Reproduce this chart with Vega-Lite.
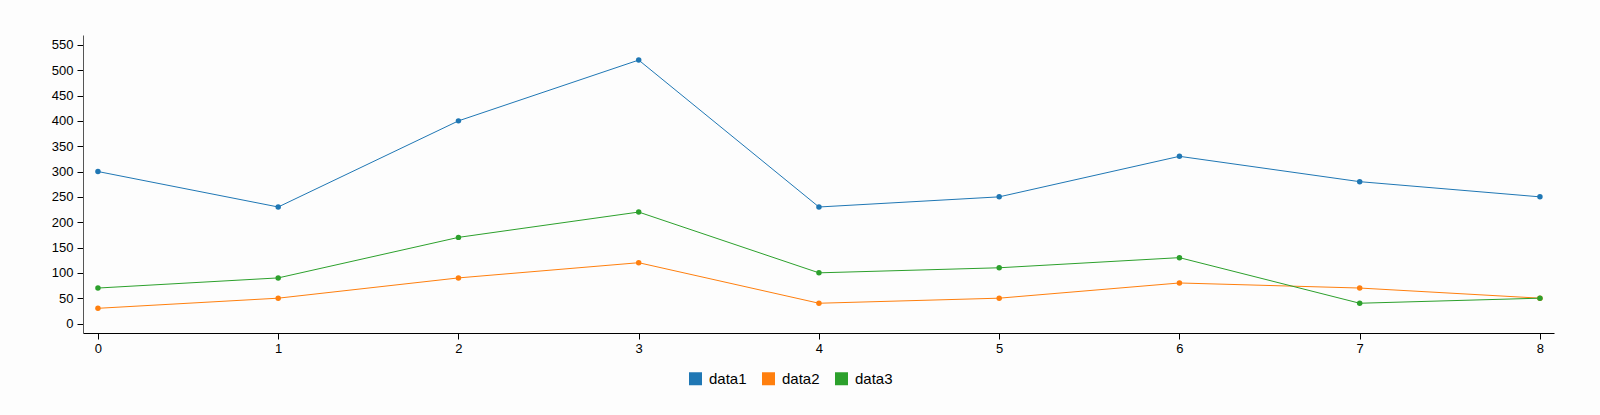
{
  "$schema": "https://vega.github.io/schema/vega-lite/v6.json",
  "autosize": "none",
  "width": 1471,
  "height": 298,
  "padding": {"left": 83, "top": 35, "right": 46, "bottom": 82},
  "background": "#fdfdfd",
  "data": {"values": [
    {"x": 0, "value": 300, "series": "data1"},
    {"x": 1, "value": 230, "series": "data1"},
    {"x": 2, "value": 400, "series": "data1"},
    {"x": 3, "value": 520, "series": "data1"},
    {"x": 4, "value": 230, "series": "data1"},
    {"x": 5, "value": 250, "series": "data1"},
    {"x": 6, "value": 330, "series": "data1"},
    {"x": 7, "value": 280, "series": "data1"},
    {"x": 8, "value": 250, "series": "data1"},
    {"x": 0, "value": 30, "series": "data2"},
    {"x": 1, "value": 50, "series": "data2"},
    {"x": 2, "value": 90, "series": "data2"},
    {"x": 3, "value": 120, "series": "data2"},
    {"x": 4, "value": 40, "series": "data2"},
    {"x": 5, "value": 50, "series": "data2"},
    {"x": 6, "value": 80, "series": "data2"},
    {"x": 7, "value": 70, "series": "data2"},
    {"x": 8, "value": 50, "series": "data2"},
    {"x": 0, "value": 70, "series": "data3"},
    {"x": 1, "value": 90, "series": "data3"},
    {"x": 2, "value": 170, "series": "data3"},
    {"x": 3, "value": 220, "series": "data3"},
    {"x": 4, "value": 100, "series": "data3"},
    {"x": 5, "value": 110, "series": "data3"},
    {"x": 6, "value": 130, "series": "data3"},
    {"x": 7, "value": 40, "series": "data3"},
    {"x": 8, "value": 50, "series": "data3"}
  ]},
  "encoding": {
    "x": {
      "field": "x", "type": "quantitative",
      "scale": {"domain": [-0.083, 8.078], "nice": false, "zero": false},
      "axis": {"title": null, "grid": false, "values": [0,1,2,3,4,5,6,7,8], "format": "d",
               "domainColor": "#000", "tickColor": "#000", "tickSize": 6, "labelPadding": 3,
               "labelFont": "Liberation Sans", "labelFontSize": 13, "labelColor": "#000"}
    },
    "y": {
      "field": "value", "type": "quantitative",
      "scale": {"domain": [-18.75, 569.5], "nice": false, "zero": false},
      "axis": {"title": null, "grid": false, "values": [0,50,100,150,200,250,300,350,400,450,500,550],
               "domainColor": "#555", "tickColor": "#000", "tickSize": 6, "labelPadding": 4,
               "labelFont": "Liberation Sans", "labelFontSize": 13, "labelColor": "#000"}
    },
    "color": {
      "field": "series", "type": "nominal",
      "scale": {"domain": ["data1", "data2", "data3"], "range": ["#1f77b4", "#ff7f0e", "#2ca02c"]},
      "legend": {"title": null, "orient": "none", "direction": "horizontal", "legendX": 605, "legendY": 336,
                 "symbolType": "square", "symbolSize": 169, "symbolStrokeWidth": 0, "symbolOpacity": 1,
                 "labelFont": "Liberation Sans", "labelFontSize": 15, "labelColor": "#000",
                 "labelOffset": 6, "columnPadding": 14}
    }
  },
  "layer": [
    {"mark": {"type": "line", "strokeWidth": 1}},
    {"mark": {"type": "point", "filled": true, "size": 30, "opacity": 1}}
  ],
  "config": {"view": {"stroke": null}}
}
